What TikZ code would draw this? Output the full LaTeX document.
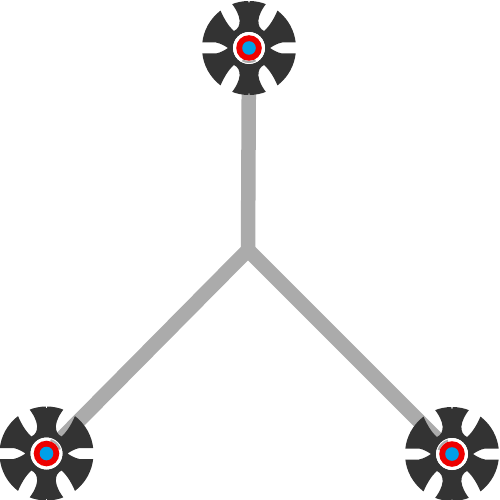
\documentclass[tikz,border=0pt]{standalone}
\definecolor{wheeldark}{HTML}{333333}
\definecolor{linkgray}{HTML}{ABABAB}
\definecolor{ringred}{HTML}{EE0000}
\definecolor{hubblue}{HTML}{00A0E8}
\tikzset{
  linkline/.style={draw=linkgray,line width=14.5pt,line join=miter},
  wheel/.pic={
    \begin{scope}
      \clip (0,0) circle (47);
      \fill[wheeldark,even odd rule]
        (-60,-60) rectangle (60,60)
        (0,0) circle (16)
        \foreach \sx/\sy in {1/1,-1/1,1/-1,-1/-1}{
          (\sx*-30,\sy*-41) .. controls (\sx*-26,\sy*-31) and (\sx*-21,\sy*-22) .. (\sx*-15,\sy*-17)
            .. controls (\sx*-7,\sy*-21) and (\sx*-7,\sy*-32) .. (\sx*-18.5,\sy*-46)
            -- (\sx*-24,\sy*-50) -- cycle
        }
        \foreach \sx in {1,-1}{
          (\sx*-50,-5.5) -- (\sx*-33,-5.5) .. controls (\sx*-28,-4.5) and (\sx*-24,-2) .. (\sx*-21,0)
            .. controls (\sx*-24,2) and (\sx*-28,4.5) .. (\sx*-33,5.5) -- (\sx*-50,5.5) -- cycle
        }
        \foreach \sy in {1,-1}{
          (-0.6,\sy*-50) -- (0.6,\sy*-50) -- (0.6,\sy*-45.5) -- (-0.6,\sy*-45.5) -- cycle
        };
    \end{scope}
    \fill[white] (0,0) circle (16);
    \draw[linkgray,line width=2pt] (#1-28:14) arc[start angle=#1-28,end angle=#1+28,radius=14];
    \fill[ringred] (0,0) circle (12.8);
    \fill[hubblue] (0,0) circle (6.8);
  },
  wheel/.default=0
}
\begin{document}
\begin{tikzpicture}[x=1pt,y=-1pt]
  \useasboundingbox (0,0) rectangle (500,500);
  \coordinate (hub) at (248,250);
  \coordinate (topw) at (249,48);
  \coordinate (leftw) at (46.5,453.5);
  \coordinate (rightw) at (452,454);
  \draw[linkline] (topw) -- (hub);
  \draw[linkline] (leftw) -- (hub) -- (rightw);
  \pic at (topw) {wheel=90};
  \pic at (leftw) {wheel=-45};
  \pic at (rightw) {wheel=-135};
\end{tikzpicture}
\end{document}
